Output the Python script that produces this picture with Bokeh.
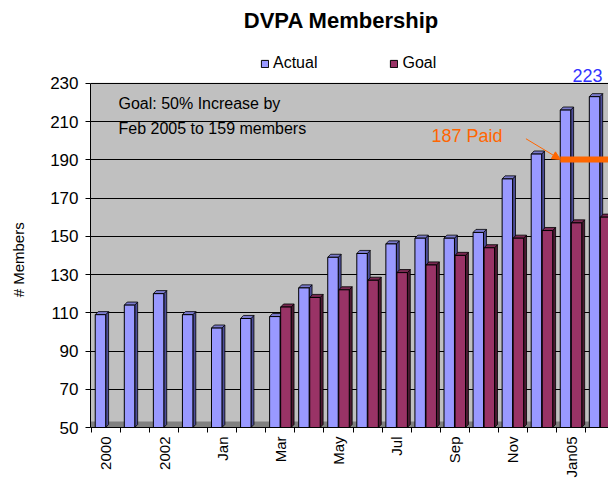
from math import pi
from bokeh.plotting import figure
from bokeh.models import (Range1d, FixedTicker, Legend, LegendItem, Label, Arrow,
                          NormalHead, BoxAnnotation)
from bokeh.embed import file_html
from bokeh.resources import INLINE

# ---------------- data ----------------
categories = ["2000", "2001", "2002", "2003", "Jan", "Feb", "Mar", "Apr", "May",
              "Jun", "Jul", "Aug", "Sep", "Oct", "Nov", "Dec", "Jan05", "Feb05"]
actual = [109, 114, 120, 109, 102, 107, 108, 123, 139, 141, 146, 149, 149, 152,
          180, 193, 216, 223]
goal_months = ["Mar", "Apr", "May", "Jun", "Jul", "Aug", "Sep", "Oct", "Nov",
               "Dec", "Jan05", "Feb05"]
goal = [113, 118, 122, 127, 131, 135, 140, 144, 149, 153, 157, 160]
y_ticks = [50, 70, 90, 110, 130, 150, 170, 190, 210, 230]
paid_month = "Jan05"
paid = 187
last_label = "223"
title_text = "DVPA Membership"
y_title = "# Members"

# ---------------- styling constants ----------------
W = 0.36      # bar width (category units)
OFF = 0.19    # offset of each series from category centre
DX = 0.1      # 3D depth in x (category units)
DY = 1.6      # 3D depth in y (value units)
BASE, TOP = 50, 230
HEAD = 43.3   # room above the plot area for title / legend / label (value units)
ACT_C, ACT_SIDE, ACT_TOP = "#9999FF", "#4D4D99", "#7A7ACC"
GOAL_C, GOAL_SIDE, GOAL_TOP = "#993366", "#4D1A33", "#7A2952"
FONT = "Liberation Sans"
LABEL_PAD = "\u00a0" * 22   # shifts the y-axis title down to the plot-area centre

idx = {c: i for i, c in enumerate(categories)}
ax = [i - OFF for i in range(len(categories))]
gx = [idx[m] + OFF for m in goal_months]


def faces(xs, vals):
    side_x, side_y, top_x, top_y = [], [], [], []
    for x, v in zip(xs, vals):
        r, l = x + W / 2, x - W / 2
        side_x.append([r, r + DX, r + DX, r])
        side_y.append([BASE, BASE + DY, v + DY, v])
        top_x.append([l, l + DX, r + DX, r])
        top_y.append([v, v + DY, v + DY, v])
    return side_x, side_y, top_x, top_y


p = figure(width=608, height=481, output_backend="svg", toolbar_location=None,
           x_range=Range1d(-0.533, 17.29), y_range=Range1d(BASE, TOP + HEAD),
           min_border_left=90, min_border_right=0, min_border_top=0,
           min_border_bottom=54)
p.background_fill_color = "white"
p.border_fill_color = "white"
p.outline_line_color = None

# plot area (gray wall) below the grid
p.add_layout(BoxAnnotation(bottom=BASE, top=TOP, fill_color="#C0C0C0", fill_alpha=1,
                           line_color="black", line_width=1, level="image"))

# floor
p.quad(left=-1, right=19, bottom=BASE, top=BASE + 2 * DY, fill_color="#808080",
       line_color=None)

sx, sy, tx, ty = faces(ax, actual)
p.patches(sx, sy, fill_color=ACT_SIDE, line_color="black", line_width=0.8)
p.patches(tx, ty, fill_color=ACT_TOP, line_color="black", line_width=0.8)
r_act = p.vbar(x=ax, top=actual, bottom=BASE, width=W, fill_color=ACT_C,
               line_color="black", line_width=1)

sx, sy, tx, ty = faces(gx, goal)
p.patches(sx, sy, fill_color=GOAL_SIDE, line_color="black", line_width=0.8)
p.patches(tx, ty, fill_color=GOAL_TOP, line_color="black", line_width=0.8)
r_goal = p.vbar(x=gx, top=goal, bottom=BASE, width=W, fill_color=GOAL_C,
                line_color="black", line_width=1)

# paid marker
px = idx[paid_month] - OFF
p.segment(x0=[px - W / 2], y0=[paid + 2 * DY], x1=[20], y1=[paid + 2 * DY],
          line_color="#FF6600", line_width=6)
p.add_layout(Arrow(end=NormalHead(size=8, fill_color="#FF6600", line_color="#FF6600"),
                   x_start=idx[paid_month] - 1.55, y_start=paid + 14.0,
                   x_end=px - W / 2, y_end=paid + 2 * DY,
                   line_color="#FF6600", line_width=1))
p.add_layout(Label(x=11.2, y=paid + 15.5, text=f"{paid} Paid", text_color="#FF6600",
                   text_font=FONT, text_font_size="18px", text_baseline="middle"))
p.add_layout(Label(x=len(categories) - 1 - OFF, y=actual[-1], text=last_label,
                   text_color="#3333FF", text_font=FONT, text_font_size="18px",
                   text_align="center", text_baseline="bottom", y_offset=15,
                   x_offset=-7))
p.add_layout(Label(x=0.43, y=219.4, text="Goal: 50% Increase by", text_font=FONT,
                   text_font_size="16px", text_baseline="middle", text_color="black"))
p.add_layout(Label(x=0.43, y=206.3, text="Feb 2005 to 159 members", text_font=FONT,
                   text_font_size="16px", text_baseline="middle", text_color="black"))

# chart title (drawn inside the top margin of the frame)
p.add_layout(Label(x=8.1, y=TOP + HEAD, y_offset=-20, text=title_text,
                   text_font=FONT, text_font_size="22px", text_font_style="bold",
                   text_color="black", text_align="center", text_baseline="middle"))

# grid & axes
p.xgrid.grid_line_color = None
p.ygrid.ticker = FixedTicker(ticks=y_ticks)
p.ygrid.grid_line_color = "black"
p.ygrid.grid_line_width = 1.2

p.yaxis.ticker = FixedTicker(ticks=y_ticks)
p.yaxis.bounds = (BASE, TOP)
p.yaxis.axis_label = y_title + LABEL_PAD
p.yaxis.axis_label_text_font = FONT
p.yaxis.axis_label_text_font_style = "normal"
p.yaxis.axis_label_text_font_size = "15px"
p.yaxis.axis_label_text_color = "black"
p.yaxis.axis_label_standoff = 20
p.yaxis.major_label_text_font = FONT
p.yaxis.major_label_text_font_size = "17px"
p.yaxis.major_label_text_color = "black"
p.yaxis.major_label_standoff = 7
p.yaxis.axis_line_color = "black"
p.yaxis.major_tick_line_color = "black"
p.yaxis.major_tick_in = 0
p.yaxis.major_tick_out = 5
p.yaxis.minor_tick_line_color = None

even = list(range(0, len(categories), 2))
bounds = [i + 0.5 for i in range(-1, len(categories))]
p.xaxis.ticker = FixedTicker(ticks=even, minor_ticks=bounds)
p.xaxis.major_label_overrides = {i: categories[i] for i in even}
p.xaxis.major_label_orientation = pi / 2
p.xaxis.major_label_text_font = FONT
p.xaxis.major_label_text_font_size = "15px"
p.xaxis.major_label_text_color = "black"
p.xaxis.major_label_standoff = 3
p.xaxis.major_tick_line_color = None
p.xaxis.minor_tick_line_color = "black"
p.xaxis.minor_tick_in = 0
p.xaxis.minor_tick_out = 5
p.xaxis.axis_line_color = "black"

legend = Legend(items=[LegendItem(label="Actual", renderers=[r_act]),
                       LegendItem(label="Goal", renderers=[r_goal])],
                orientation="horizontal", location=(170, 355), spacing=72,
                glyph_width=9, glyph_height=9, label_text_font=FONT,
                label_text_font_size="16px", label_text_color="black",
                border_line_color=None, background_fill_alpha=0, padding=2,
                margin=0, label_standoff=4)
p.add_layout(legend, "center")

open("out.html", "w").write(file_html(p, INLINE))
